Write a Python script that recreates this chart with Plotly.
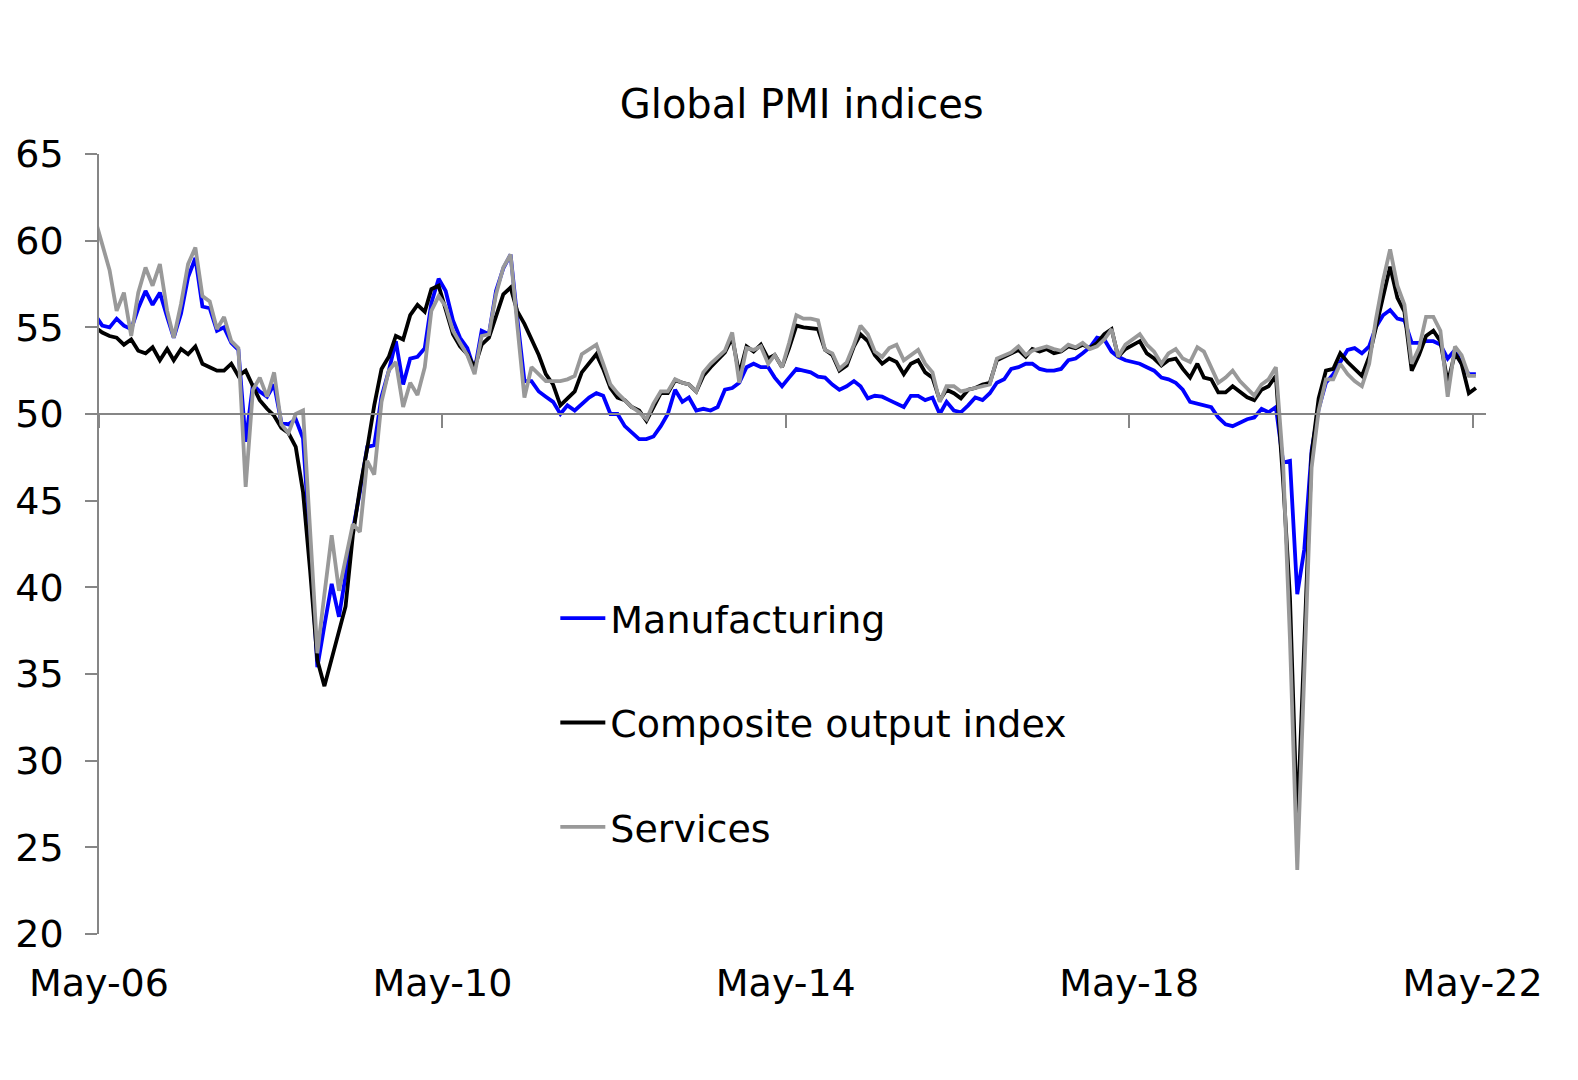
import pandas as pd
import plotly.graph_objects as go

# Monthly values, Apr-06 .. May-22 (the April 2006 point sits just left of the axis start)
manufacturing = [
    55.7,
    55.1, 55.0, 55.5, 55.1, 54.9, 56.1, 57.1, 56.3,
    57.0, 55.6, 54.4, 55.8, 57.9, 59.0, 56.2, 56.1, 54.8, 55.0, 54.1, 53.7,
    48.4, 51.7, 51.3, 51.0, 51.7, 49.5, 49.4, 49.7, 48.6, 42.5, 35.4, 37.8,
    40.2, 38.3, 40.8, 43.3, 45.5, 48.1, 48.2, 51.0, 52.5, 54.2, 51.7, 53.2,
    53.3, 53.8, 56.4, 57.8, 57.1, 55.4, 54.4, 53.8, 52.5, 54.8, 54.6, 57.1,
    58.4, 59.2, 55.6, 51.9, 51.9, 51.3, 51.0, 50.7, 50.0, 50.5, 50.2, 50.6,
    50.95, 51.2, 51.05, 50.0, 50.0, 49.3, 48.9, 48.55, 48.55, 48.7, 49.3, 50.0,
    51.4, 50.7, 50.95, 50.2, 50.3, 50.2, 50.4, 51.4, 51.5, 51.8, 52.7, 52.9,
    52.7, 52.7, 52.1, 51.6, 52.1, 52.6, 52.5, 52.4, 52.15, 52.1, 51.7, 51.4,
    51.6, 51.9, 51.6, 50.9, 51.05, 51.0, 50.8, 50.6, 50.4, 51.05, 51.05, 50.8,
    50.95, 50.0, 50.7, 50.2, 50.1, 50.5, 50.95, 50.8, 51.2, 51.8, 52.0, 52.6,
    52.7, 52.9, 52.9, 52.6, 52.5, 52.5, 52.6, 53.1, 53.2, 53.5, 53.85, 54.4,
    54.3, 53.6, 53.3, 53.1, 53.0, 52.9, 52.7, 52.5, 52.1, 52.0, 51.8, 51.4,
    50.7, 50.6, 50.5, 50.4, 49.8, 49.4, 49.3, 49.5, 49.7, 49.8, 50.3, 50.1,
    50.4, 47.2, 47.3, 39.6, 42.2, 47.9, 50.3, 51.8, 52.3, 53.0, 53.7, 53.8,
    53.5, 53.9, 55.0, 55.7, 56.0, 55.5, 55.4, 54.1, 54.1, 54.2, 54.2, 54.0,
    53.2, 53.7, 52.9, 52.3, 52.3,
]

composite = [
    55.0,
    54.7, 54.5, 54.4, 54.0, 54.3, 53.65, 53.5, 53.85,
    53.1, 53.75, 53.1, 53.75, 53.45, 53.9, 52.9, 52.7, 52.5, 52.5, 52.9, 52.2,
    52.5, 51.6, 50.8, 50.3, 49.9, 49.2, 48.9, 48.1, 45.5, 41.0, 35.8, 34.3,
    35.9, 37.3, 38.9, 43.0, 45.7, 48.0, 50.5, 52.6, 53.3, 54.5, 54.3, 55.7,
    56.3, 55.9, 57.2, 57.4, 56.0, 54.6, 53.9, 53.45, 52.7, 54.0, 54.4, 55.6,
    56.9, 57.3, 55.95, 55.2, 54.3, 53.4, 52.3, 51.7, 50.5, 50.9, 51.3, 52.4,
    52.97, 53.45, 52.6, 51.5, 50.95, 50.8, 50.4, 50.2, 49.6, 50.4, 51.2, 51.2,
    51.95, 51.8, 51.7, 51.3, 52.2, 52.7, 53.1, 53.55, 54.4, 52.3, 53.9, 53.6,
    54.0, 53.2, 53.4, 52.7, 53.8, 55.1, 55.0, 54.95, 54.9, 53.7, 53.4, 52.5,
    52.8, 53.9, 54.6, 54.2, 53.4, 52.9, 53.2, 53.0, 52.3, 52.9, 53.1, 52.4,
    52.1, 50.8, 51.4, 51.2, 50.9, 51.4, 51.5, 51.7, 51.8, 53.1, 53.3, 53.45,
    53.7, 53.3, 53.75, 53.6, 53.75, 53.5, 53.6, 53.9, 53.8, 54.0, 53.8, 54.1,
    54.6, 54.9, 53.3, 53.75, 54.0, 54.2, 53.5, 53.2, 52.8, 53.1, 53.2, 52.6,
    52.1, 52.9, 52.1, 52.0, 51.25, 51.25, 51.6, 51.25, 50.96, 50.8, 51.4, 51.6,
    52.2, 46.1, 39.4, 26.2, 36.3, 47.7, 50.9, 52.5, 52.6, 53.5, 53.0, 52.6,
    52.2, 53.3, 55.0, 56.7, 58.5, 56.7, 55.9, 52.5, 53.4, 54.5, 54.8, 54.2,
    51.8, 53.5, 52.9, 51.2, 51.5,
]

services = [
    61.2,
    59.8, 58.3, 55.95, 57.0, 54.5, 57.0, 58.45, 57.4,
    58.65, 55.95, 54.4, 56.35, 58.65, 59.6, 56.8, 56.5, 54.9, 55.6, 54.2, 53.8,
    45.8, 51.4, 52.1, 51.0, 52.4, 49.4, 48.9, 50.0, 50.2, 43.3, 36.2, 39.6,
    43.0, 39.8, 41.7, 43.65, 43.2, 47.3, 46.5, 50.7, 52.5, 53.0, 50.4, 51.8,
    51.1, 52.7, 55.95, 56.8, 56.2, 54.8, 54.1, 53.4, 52.3, 54.5, 54.6, 56.9,
    58.45, 59.2, 55.2, 50.95, 52.7, 52.3, 51.9, 51.9, 51.9, 52.0, 52.2, 53.45,
    53.7, 54.0, 52.9, 51.7, 51.2, 50.8, 50.4, 50.1, 49.7, 50.6, 51.3, 51.3,
    52.0, 51.8, 51.7, 51.3, 52.4, 52.9, 53.3, 53.65, 54.7, 51.8, 53.8, 53.7,
    53.9, 52.9, 53.4, 52.7, 54.1, 55.7, 55.5, 55.5, 55.4, 53.7, 53.5, 52.6,
    52.97, 54.0, 55.1, 54.6, 53.6, 53.3, 53.8, 54.0, 53.1, 53.4, 53.7, 52.9,
    52.4, 50.7, 51.6, 51.6, 51.3, 51.4, 51.5, 51.6, 51.7, 53.2, 53.4, 53.55,
    53.9, 53.4, 53.65, 53.8, 53.9, 53.75, 53.65, 54.0, 53.85, 54.1, 53.75, 53.9,
    54.3, 54.9, 53.3, 54.0, 54.3, 54.6, 54.0, 53.6, 52.9, 53.5, 53.75, 53.2,
    53.0, 53.85, 53.6, 52.7, 51.8, 52.1, 52.5, 51.9, 51.5, 51.06, 51.7, 52.0,
    52.7, 47.1, 37.0, 23.7, 35.1, 46.9, 50.2, 52.0, 52.0, 52.9, 52.3, 51.9,
    51.6, 52.9, 55.4, 57.7, 59.5, 57.4, 56.3, 52.9, 53.8, 55.6, 55.6, 54.8,
    51.0, 53.9, 53.4, 52.2, 52.2,
]

months = pd.date_range("2006-04-01", periods=len(manufacturing), freq="MS") + pd.Timedelta(days=14)

tick_vals = ["2006-05-01", "2010-05-01", "2014-05-01", "2018-05-01", "2022-05-01"]
tick_text = ["May-06", "May-10", "May-14", "May-18", "May-22"]
y_ticks = [20, 25, 30, 35, 40, 45, 50, 55, 60, 65]
x_range = ["2006-05-01", "2022-06-27"]

FONT = "DejaVu Sans"
AXIS_GREY = "#868686"

fig = go.Figure()
series = [
    ("Manufacturing", manufacturing, "#0000FF", 1),
    ("Composite output index", composite, "#000000", 2),
    ("Services", services, "#999999", 3),
]
for name, vals, color, rank in series:
    fig.add_trace(go.Scatter(
        x=months, y=vals, name=name, mode="lines",
        line=dict(color=color, width=3.8),
        legendgroup=name, legendrank=rank,
    ))

# empty trace so the crossing axis at 50 is drawn
fig.add_trace(go.Scatter(x=[], y=[], xaxis="x2", yaxis="y", showlegend=False, hoverinfo="skip"))

fig.update_layout(
    width=1578, height=1080,
    paper_bgcolor="white", plot_bgcolor="white",
    margin=dict(l=91, r=100, t=146, b=154, autoexpand=False),
    font=dict(family=FONT, size=38, color="black"),
    title=dict(text="Global PMI indices", x=0.503, xref="container", xanchor="center",
               y=1 - 96 / 1080, yref="container", yanchor="middle",
               font=dict(family=FONT, size=40, color="black")),
    xaxis=dict(type="date", range=x_range, tickvals=tick_vals, ticktext=tick_text,
               showline=False, showgrid=False, zeroline=False, ticks="",
               automargin=False, ticklabelstandoff=23, tickfont=dict(size=38)),
    xaxis2=dict(type="date", range=x_range, tickvals=tick_vals, overlaying="x",
                anchor="free", position=(50 - 20) / (65 - 20), side="bottom",
                showline=True, linecolor=AXIS_GREY, linewidth=1.5,
                ticks="outside", ticklen=13, tickwidth=1.5, tickcolor=AXIS_GREY,
                showticklabels=False, showgrid=False, zeroline=False, automargin=False),
    yaxis=dict(range=[20, 65], tickvals=y_ticks,
               showline=True, linecolor=AXIS_GREY, linewidth=1.5,
               ticks="outside", ticklen=12, tickwidth=1.5, tickcolor=AXIS_GREY,
               showgrid=False, zeroline=False, ticklabelstandoff=14, automargin=False,
               tickfont=dict(size=38)),
    legend=dict(x=0.329, y=0.445, xanchor="left", yanchor="top",
                bgcolor="rgba(0,0,0,0)", font=dict(family=FONT, size=38, color="black"),
                tracegroupgap=52, itemwidth=45, traceorder="grouped"),
    showlegend=True,
)

fig.write_html("out.html")
